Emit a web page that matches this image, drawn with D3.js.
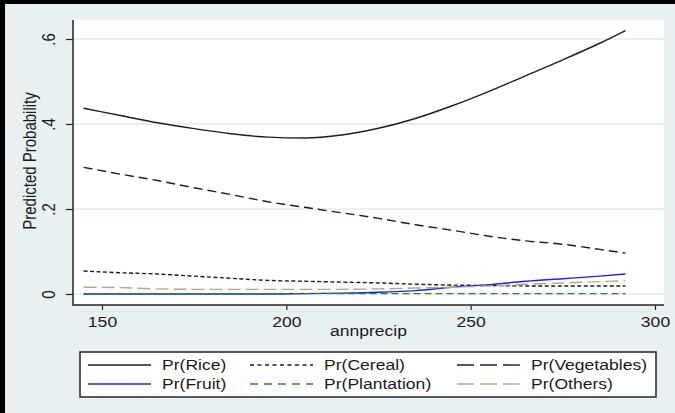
<!DOCTYPE html>
<html lang="en">
<head>
<meta charset="UTF-8">
<title>Predicted Probability by annprecip</title>
<script src="https://d3js.org/d3.v7.min.js"></script>
<style>
  html, body { margin: 0; padding: 0; background: #000; }
  text { font-family: "Liberation Sans", Arial, sans-serif; fill: #1a1a1a; }
</style>
</head>
<body>
<div id="chart"></div>
<script>
// values
var annprecip  = [145, 155, 165, 175, 185, 195, 205, 215, 225, 235, 245, 255, 265, 275, 285, 292];
var rice       = [.437, .420, .403, .389, .377, .369, .367, .374, .390, .413, .443, .477, .514, .551, .590, .620];
var cereal     = [.054, .050, .047, .042, .037, .032, .030, .028, .026, .023, .021, .020, .019, .019, .019, .019];
var vegetables = [.298, .282, .267, .250, .234, .217, .204, .191, .178, .163, .150, .136, .125, .117, .105, .096];
var fruit      = [0, 0, 0, 0, 0, 0, .001, .002, .004, .008, .016, .022, .030, .036, .042, .047];
var plantation = [.001, .001, .001, .001, .001, .001, .001, .001, .001, .001, .001, .001, .001, .001, .001, .001];
var others     = [.016, .015, .012, .011, .011, .011, .011, .011, .012, .014, .016, .019, .023, .026, .029, .031];
var labels     = ['Pr(Rice)', 'Pr(Cereal)', 'Pr(Vegetables)', 'Pr(Fruit)', 'Pr(Plantation)', 'Pr(Others)'];
var xTicks     = [150, 200, 250, 300];
var yTicks     = [0, .2, .4, .6];
var yTickText  = ['0', '.2', '.4', '.6'];

var series = [
  { name: labels[0], values: rice,       color: '#1e1e1e', dash: null,    legDash: null },
  { name: labels[1], values: cereal,     color: '#1e1e1e', dash: '4,2.5', legDash: '4,3.5' },
  { name: labels[2], values: vegetables, color: '#1e1e1e', dash: '9,5',   legDash: '17,6' },
  { name: labels[3], values: fruit,      color: '#2020f0', dash: null,    legDash: null },
  { name: labels[4], values: plantation, color: '#1a901a', dash: '7,4',   legDash: '8,6' },
  { name: labels[5], values: others,     color: '#b9a57c', dash: '13,5',  legDash: '17,6' }
];

var width = 675, height = 413;
var plot = { left: 73, right: 664, top: 20, bottom: 305 };
var sx = 1.17; // text in the picture is stretched horizontally

var svg = d3.select('#chart').append('svg')
  .attr('width', width).attr('height', height);

// black frame top/left, then light background
svg.append('rect').attr('width', width).attr('height', height).attr('fill', '#000');
svg.append('rect').attr('x', 5).attr('y', 4).attr('width', width - 5).attr('height', height - 4)
  .attr('fill', '#e9f0f2');
svg.append('rect').attr('x', plot.left).attr('y', plot.top)
  .attr('width', plot.right - plot.left).attr('height', plot.bottom - plot.top)
  .attr('fill', '#fff');

var x = d3.scaleLinear().domain([150, 300]).range([102, 655]);
var y = d3.scaleLinear().domain([0, .6]).range([294, 39]);

// gridlines
svg.append('g').selectAll('line').data(yTicks).enter().append('line')
  .attr('x1', plot.left).attr('x2', plot.right)
  .attr('y1', function(d) { return y(d); }).attr('y2', function(d) { return y(d); })
  .attr('stroke', '#e2ebef').attr('stroke-width', 1.5);

// lines
var line = d3.line()
  .curve(d3.curveMonotoneX)
  .x(function(d, i) { return x(annprecip[i]); })
  .y(function(d) { return y(d); });

svg.append('g').selectAll('path').data(series).enter().append('path')
  .attr('d', function(s) { return line(s.values); })
  .attr('fill', 'none')
  .attr('stroke', function(s) { return s.color; })
  .attr('stroke-width', 1.4)
  .attr('stroke-dasharray', function(s) { return s.dash; });

// x axis
var xAxis = svg.append('g').attr('transform', 'translate(0,' + plot.bottom + ')')
  .call(d3.axisBottom(x).tickValues(xTicks).tickSize(5).tickSizeOuter(0).tickFormat(d3.format('d')));
xAxis.select('.domain').remove();
xAxis.selectAll('.tick line').attr('stroke', '#222').attr('stroke-width', 1.2);
xAxis.selectAll('.tick text')
  .attr('y', 0).attr('dy', 0)
  .attr('transform', 'translate(0,22) scale(' + sx + ',1)')
  .style('font-size', '15px').attr('fill', '#1a1a1a');

// y axis
var yAxis = svg.append('g').attr('transform', 'translate(' + plot.left + ',0)')
  .call(d3.axisLeft(y).tickValues(yTicks).tickSize(7).tickSizeOuter(0)
    .tickFormat(function(d, i) { return yTickText[i]; }));
yAxis.select('.domain').remove();
yAxis.selectAll('.tick line').attr('stroke', '#222').attr('stroke-width', 1.2);
yAxis.selectAll('.tick text')
  .attr('x', 0).attr('dy', 0).attr('text-anchor', 'middle')
  .attr('transform', 'translate(-18,0) scale(' + sx + ',1) rotate(-90)')
  .style('font-size', '15px').attr('fill', '#1a1a1a');

// axis lines
svg.append('line').attr('x1', plot.left).attr('x2', plot.left)
  .attr('y1', plot.top).attr('y2', plot.bottom + 0.75)
  .attr('stroke', '#222').attr('stroke-width', 1.5);
svg.append('line').attr('x1', plot.left).attr('x2', plot.right)
  .attr('y1', plot.bottom).attr('y2', plot.bottom)
  .attr('stroke', '#222').attr('stroke-width', 1.5);

// axis titles
svg.append('text')
  .attr('transform', 'translate(' + ((plot.left + plot.right) / 2) + ',336) scale(' + sx + ',1)')
  .attr('text-anchor', 'middle').style('font-size', '15px').text('annprecip');
svg.append('text')
  .attr('transform', 'translate(36,161) scale(' + sx + ',1) rotate(-90)')
  .attr('text-anchor', 'middle').style('font-size', '15px').text('Predicted Probability');

// legend
var legend = svg.append('g');
legend.append('rect').attr('x', 80).attr('y', 352).attr('width', 576).attr('height', 45)
  .attr('fill', '#fff').attr('stroke', '#222').attr('stroke-width', 1.5);

var colX = [88, 250, 457];
var rowY = [365, 384];
var items = legend.selectAll('g.item').data(series).enter().append('g')
  .attr('transform', function(s, i) {
    return 'translate(' + colX[i % 3] + ',' + rowY[Math.floor(i / 3)] + ')';
  });
items.append('line').attr('x1', 0).attr('x2', 63).attr('y1', 0).attr('y2', 0)
  .attr('stroke', function(s) { return s.color; })
  .attr('stroke-width', 1.4)
  .attr('stroke-dasharray', function(s) { return s.legDash; });
items.append('text')
  .attr('transform', 'translate(74,5) scale(' + sx + ',1)')
  .style('font-size', '15px')
  .text(function(s) { return s.name; });
</script>
</body>
</html>
